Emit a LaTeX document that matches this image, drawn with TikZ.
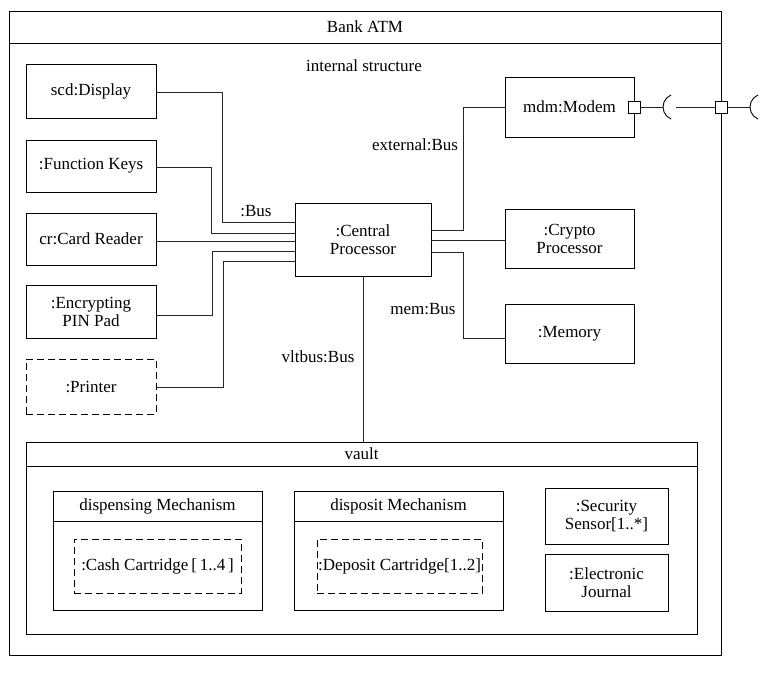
\documentclass[tikz,border=0pt]{standalone}
\usepackage{fontspec}
\setmainfont{Liberation Serif}
\newcommand\dfont{\fontsize{17}{18}\selectfont}
\begin{document}
\begin{tikzpicture}[x=1pt,y=-1pt,
  box/.style={draw, line width=0.9pt, inner sep=0pt, align=center, font=\dfont},
  dbox/.style={box, dash pattern=on 7pt off 4pt},
  frame/.style={draw, line width=0.9pt, inner sep=0pt},
  txt/.style={inner sep=0pt, font=\dfont},
  conn/.style={draw=black!85, line width=0.9pt},
  port/.style={draw, fill=white, line width=0.9pt, minimum size=12pt, inner sep=0pt}]
\useasboundingbox (0,0) rectangle (768,673);

% outer Bank ATM frame
\node[frame, minimum width=712pt, minimum height=644pt] (atm) at (365,333) {};
\draw[line width=0.9pt] (atm.west |- 0,43) -- (atm.east |- 0,43);
\node[txt] (atmtitle) at (365,27) {Bank ATM};
\node[txt] (istruct) at (364,66) {internal structure};

% left parts
\node[box, minimum width=130pt, minimum height=54pt] (disp) at (91,91) {scd:Display};
\node[box, minimum width=130pt, minimum height=52pt] (fkeys) at (91,166) {:Function Keys};
\node[box, minimum width=130pt, minimum height=52pt] (card) at (91,239) {cr:Card Reader};
\node[box, minimum width=130pt, minimum height=53pt] (pin) at (91,311.5) {:Encrypting\\PIN Pad};
\node[dbox, minimum width=130pt, minimum height=55pt] (printer) at (91,386.5) {:Printer};

% central processor
\node[box, minimum width=136pt, minimum height=73pt] (cp) at (363,239.5) {:Central\\Processor};

% right parts
\node[box, minimum width=129pt, minimum height=60pt] (modem) at (569.5,107) {mdm:Modem};
\node[box, minimum width=129pt, minimum height=59pt] (crypto) at (569.5,238.5) {:Crypto\\Processor};
\node[box, minimum width=129pt, minimum height=59pt] (memory) at (569.5,333.5) {:Memory};

% left connectors
\draw[conn] (disp.east |- 0,92) -| (222,222) -- (cp.west |- 0,222);
\draw[conn] (fkeys.east |- 0,167) -| (211,233) -- (cp.west |- 0,233);
\draw[conn] (card.east |- 0,241) -- (cp.west |- 0,241);
\draw[conn] (pin.east |- 0,315) -| (212,251) -- (cp.west |- 0,251);
\draw[conn] (printer.east |- 0,387) -| (223,261) -- (cp.west |- 0,261);
\node[txt] (buslbl) at (256,211) {:Bus};

% right connectors
\draw[conn] (cp.east |- 0,230) -| (463,107) -- (modem.west |- 0,107);
\draw[conn] (cp.east |- 0,240) -- (crypto.west |- 0,240);
\draw[conn] (cp.east |- 0,252) -| (463,338) -- (memory.west |- 0,338);
\node[txt] (extlbl) at (415,145) {external:Bus};
\node[txt] (memlbl) at (423,309) {mem:Bus};

% ports and sockets
\node[port] (p1) at (634,107) {};
\coordinate (s1) at (663,107);
\coordinate (c1) at (676,107);
\draw[conn] (p1.east) -- (s1);
\draw[line width=0.9pt] ([shift={(112:13)}]c1) arc (112:248:13);
\node[port] (p2) at (721,107) {};
\draw[conn] (c1) -- (p2.west);
\coordinate (s2) at (750,107);
\coordinate (c2) at (763,107);
\draw[conn] (p2.east) -- (s2);
\draw[line width=0.9pt] ([shift={(112:13)}]c2) arc (112:248:13);

% vault
\node[frame, minimum width=671pt, minimum height=192pt] (vault) at (361.5,538) {};
\draw[line width=0.9pt] (vault.west |- 0,466) -- (vault.east |- 0,466);
\node[txt] (vaulttitle) at (361.5,454) {vault};
\draw[conn] (cp.south) -- (cp.south |- vault.north);
\node[txt] (vltlbl) at (318,357) {vltbus:Bus};

% dispensing mechanism
\node[frame, minimum width=209pt, minimum height=119pt] (dmech) at (157.5,550.5) {};
\draw[line width=0.9pt] (dmech.west |- 0,521) -- (dmech.east |- 0,521);
\node[txt] (dmtitle) at (157.5,506) {dispensing Mechanism};
\node[dbox, minimum width=167pt, minimum height=54pt] (cash) at (157.5,566) {:Cash Cartridge\,[\,1..4\,]};

% disposit mechanism
\node[frame, minimum width=209pt, minimum height=119pt] (pmech) at (398.5,550.5) {};
\draw[line width=0.9pt] (pmech.west |- 0,521) -- (pmech.east |- 0,521);
\node[txt] (pmtitle) at (398.5,506) {disposit Mechanism};
\node[dbox, minimum width=165pt, minimum height=54pt] (deposit) at (399.5,566) {:Deposit Cartridge[1..2]};

% sensor and journal
\node[box, minimum width=123pt, minimum height=56pt] (sensor) at (606.5,516) {:Security\\Sensor[1..*]};
\node[box, minimum width=123pt, minimum height=57pt] (journal) at (606.5,582.5) {:Electronic\\Journal};
\end{tikzpicture}
\end{document}
